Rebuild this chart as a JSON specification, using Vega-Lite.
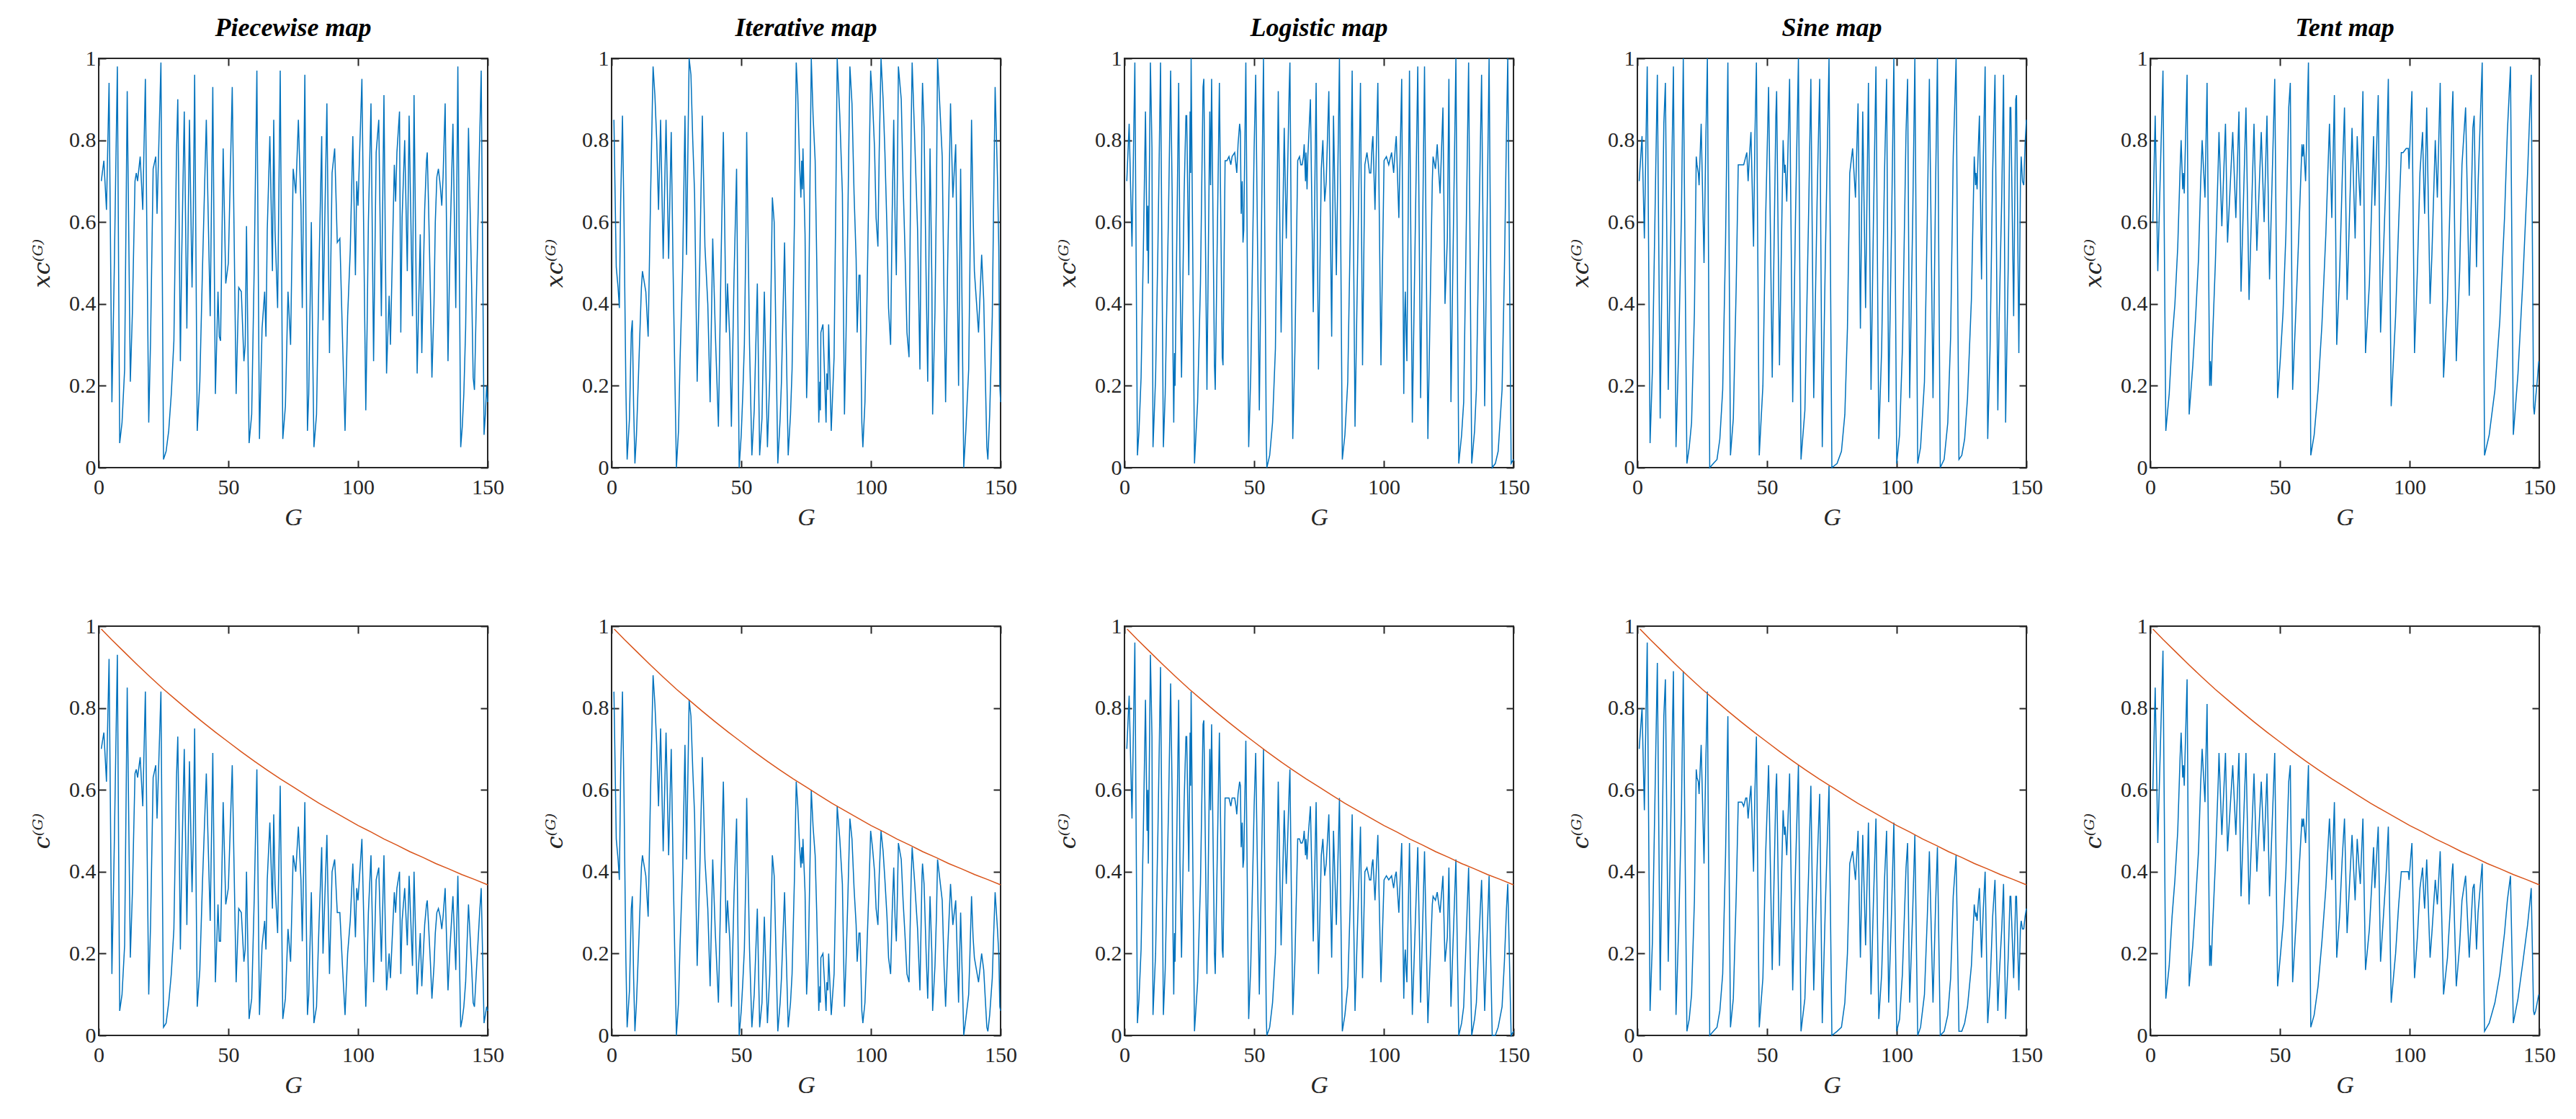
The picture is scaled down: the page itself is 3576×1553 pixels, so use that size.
{
"$schema": "https://vega.github.io/schema/vega-lite/v6.json",
"padding": {"left": 41, "top": 20, "right": 10, "bottom": 10},
"bounds": "flush",
"columns": 5,
"spacing": {"row": 220, "column": 172},
"config": {
 "font": "Liberation Serif",
 "view": {"stroke": "#262626", "strokeWidth": 2},
 "axis": {"grid": false, "domain": false, "labelFlush": false, "tickColor": "#262626", "tickSize": -10, "tickWidth": 2, "labelFont": "Liberation Serif", "labelFontSize": 30, "labelColor": "#262626", "titleFont": "Liberation Serif", "titleFontSize": 34, "titleFontStyle": "italic", "titleFontWeight": "normal", "titleColor": "#262626"},
 "axisX": {"labelPadding": 22, "titlePadding": 10},
 "axisY": {"labelPadding": 14, "titlePadding": 20, "titleFont": "DejaVu Serif", "titleFontSize": 32},
 "title": {"font": "Liberation Serif", "fontSize": 36, "fontStyle": "italic", "fontWeight": "bold", "color": "#000000", "offset": 8}
},
"datasets": {
 "e": [{"G":1,"v":0.993},{"G":5,"v":0.967},{"G":10,"v":0.936},{"G":15,"v":0.905},{"G":20,"v":0.875},{"G":25,"v":0.846},{"G":30,"v":0.819},{"G":35,"v":0.792},{"G":40,"v":0.766},{"G":45,"v":0.741},{"G":50,"v":0.717},{"G":55,"v":0.693},{"G":60,"v":0.67},{"G":65,"v":0.648},{"G":70,"v":0.627},{"G":75,"v":0.607},{"G":80,"v":0.587},{"G":85,"v":0.567},{"G":90,"v":0.549},{"G":95,"v":0.531},{"G":100,"v":0.513},{"G":105,"v":0.497},{"G":110,"v":0.48},{"G":115,"v":0.465},{"G":120,"v":0.449},{"G":125,"v":0.435},{"G":130,"v":0.42},{"G":135,"v":0.407},{"G":140,"v":0.393},{"G":145,"v":0.381},{"G":150,"v":0.368}],
 "d": [
{"m":"P","G":1,"x":0.7,"c":0.7},{"m":"P","G":2,"x":0.75,"c":0.74},{"m":"P","G":2.5,"x":0.69,"c":0.68},{"m":"P","G":3,"x":0.63,"c":0.62},{"m":"P","G":4,"x":0.94,"c":0.92},{"m":"P","G":5.1,"x":0.16,"c":0.15},{"m":"P","G":6,"x":0.48,"c":0.46},{"m":"P","G":7.2,"x":0.98,"c":0.93},{"m":"P","G":8.1,"x":0.06,"c":0.06},{"m":"P","G":9,"x":0.11,"c":0.1},{"m":"P","G":10,"x":0.24,"c":0.22},{"m":"P","G":11,"x":0.92,"c":0.85},{"m":"P","G":12.2,"x":0.21,"c":0.19},{"m":"P","G":13,"x":0.38,"c":0.35},{"m":"P","G":14,"x":0.7,"c":0.64},{"m":"P","G":14.5,"x":0.72,"c":0.65},{"m":"P","G":15,"x":0.7,"c":0.63},{"m":"P","G":16,"x":0.76,"c":0.68},{"m":"P","G":17,"x":0.63,"c":0.56},{"m":"P","G":18,"x":0.95,"c":0.84},{"m":"P","G":19.3,"x":0.11,"c":0.1},{"m":"P","G":20,"x":0.31,"c":0.27},{"m":"P","G":21,"x":0.73,"c":0.63},{"m":"P","G":22,"x":0.76,"c":0.66},{"m":"P","G":22.5,"x":0.62,"c":0.53},{"m":"P","G":23,"x":0.74,"c":0.63},{"m":"P","G":24,"x":0.99,"c":0.84},{"m":"P","G":25,"x":0.02,"c":0.02},{"m":"P","G":26,"x":0.04,"c":0.03},{"m":"P","G":27,"x":0.09,"c":0.08},{"m":"P","G":28,"x":0.18,"c":0.15},{"m":"P","G":29,"x":0.31,"c":0.26},{"m":"P","G":30,"x":0.77,"c":0.63},{"m":"P","G":30.5,"x":0.9,"c":0.73},{"m":"P","G":31,"x":0.61,"c":0.5},{"m":"P","G":31.5,"x":0.26,"c":0.21},{"m":"P","G":32,"x":0.51,"c":0.41},{"m":"P","G":33,"x":0.87,"c":0.7},{"m":"P","G":34,"x":0.34,"c":0.27},{"m":"P","G":35,"x":0.85,"c":0.67},{"m":"P","G":36,"x":0.44,"c":0.35},{"m":"P","G":36.5,"x":0.63,"c":0.49},{"m":"P","G":37,"x":0.96,"c":0.75},{"m":"P","G":38,"x":0.09,"c":0.07},{"m":"P","G":39,"x":0.21,"c":0.16},{"m":"P","G":40,"x":0.48,"c":0.37},{"m":"P","G":41.5,"x":0.85,"c":0.64},{"m":"P","G":43,"x":0.37,"c":0.28},{"m":"P","G":44,"x":0.93,"c":0.69},{"m":"P","G":45,"x":0.18,"c":0.13},{"m":"P","G":46,"x":0.43,"c":0.32},{"m":"P","G":46.5,"x":0.32,"c":0.23},{"m":"P","G":47,"x":0.31,"c":0.23},{"m":"P","G":48,"x":0.78,"c":0.57},{"m":"P","G":49,"x":0.45,"c":0.32},{"m":"P","G":50,"x":0.5,"c":0.36},{"m":"P","G":51.5,"x":0.93,"c":0.66},{"m":"P","G":53,"x":0.18,"c":0.13},{"m":"P","G":54,"x":0.44,"c":0.31},{"m":"P","G":55,"x":0.43,"c":0.3},{"m":"P","G":56,"x":0.26,"c":0.18},{"m":"P","G":56.5,"x":0.3,"c":0.21},{"m":"P","G":57,"x":0.59,"c":0.4},{"m":"P","G":58,"x":0.06,"c":0.04},{"m":"P","G":59,"x":0.13,"c":0.09},{"m":"P","G":60,"x":0.5,"c":0.34},{"m":"P","G":61,"x":0.97,"c":0.65},{"m":"P","G":62,"x":0.07,"c":0.05},{"m":"P","G":63,"x":0.34,"c":0.22},{"m":"P","G":64,"x":0.43,"c":0.28},{"m":"P","G":64.5,"x":0.32,"c":0.21},{"m":"P","G":65,"x":0.58,"c":0.38},{"m":"P","G":66,"x":0.81,"c":0.52},{"m":"P","G":67,"x":0.48,"c":0.31},{"m":"P","G":67.5,"x":0.85,"c":0.54},{"m":"P","G":68,"x":0.58,"c":0.37},{"m":"P","G":69,"x":0.39,"c":0.25},{"m":"P","G":70,"x":0.97,"c":0.61},{"m":"P","G":71,"x":0.07,"c":0.04},{"m":"P","G":72,"x":0.15,"c":0.09},{"m":"P","G":73,"x":0.43,"c":0.26},{"m":"P","G":74,"x":0.3,"c":0.18},{"m":"P","G":75,"x":0.73,"c":0.44},{"m":"P","G":76,"x":0.67,"c":0.4},{"m":"P","G":77,"x":0.85,"c":0.51},{"m":"P","G":78,"x":0.64,"c":0.38},{"m":"P","G":78.5,"x":0.39,"c":0.23},{"m":"P","G":79.5,"x":0.96,"c":0.57},{"m":"P","G":80.5,"x":0.09,"c":0.05},{"m":"P","G":81,"x":0.18,"c":0.1},{"m":"P","G":82,"x":0.6,"c":0.35},{"m":"P","G":82.5,"x":0.3,"c":0.17},{"m":"P","G":83,"x":0.05,"c":0.03},{"m":"P","G":84,"x":0.13,"c":0.07},{"m":"P","G":85,"x":0.5,"c":0.28},{"m":"P","G":86,"x":0.81,"c":0.46},{"m":"P","G":86.5,"x":0.36,"c":0.2},{"m":"P","G":88,"x":0.89,"c":0.49},{"m":"P","G":89,"x":0.28,"c":0.15},{"m":"P","G":90,"x":0.72,"c":0.4},{"m":"P","G":91,"x":0.78,"c":0.43},{"m":"P","G":92,"x":0.55,"c":0.3},{"m":"P","G":93,"x":0.56,"c":0.3},{"m":"P","G":94,"x":0.32,"c":0.17},{"m":"P","G":95,"x":0.09,"c":0.05},{"m":"P","G":96,"x":0.37,"c":0.2},{"m":"P","G":97,"x":0.53,"c":0.28},{"m":"P","G":98,"x":0.81,"c":0.42},{"m":"P","G":99,"x":0.47,"c":0.24},{"m":"P","G":99.5,"x":0.7,"c":0.36},{"m":"P","G":100,"x":0.64,"c":0.33},{"m":"P","G":101.5,"x":0.95,"c":0.48},{"m":"P","G":103,"x":0.14,"c":0.07},{"m":"P","G":103.5,"x":0.34,"c":0.17},{"m":"P","G":104,"x":0.6,"c":0.3},{"m":"P","G":105,"x":0.89,"c":0.44},{"m":"P","G":106,"x":0.26,"c":0.13},{"m":"P","G":107,"x":0.77,"c":0.38},{"m":"P","G":108,"x":0.85,"c":0.41},{"m":"P","G":109,"x":0.37,"c":0.18},{"m":"P","G":110,"x":0.91,"c":0.44},{"m":"P","G":111,"x":0.23,"c":0.11},{"m":"P","G":112,"x":0.42,"c":0.2},{"m":"P","G":112.5,"x":0.3,"c":0.14},{"m":"P","G":114,"x":0.74,"c":0.35},{"m":"P","G":114.5,"x":0.65,"c":0.3},{"m":"P","G":115,"x":0.77,"c":0.36},{"m":"P","G":116,"x":0.87,"c":0.4},{"m":"P","G":116.5,"x":0.33,"c":0.15},{"m":"P","G":117,"x":0.61,"c":0.28},{"m":"P","G":118,"x":0.8,"c":0.36},{"m":"P","G":119,"x":0.48,"c":0.22},{"m":"P","G":119.7,"x":0.86,"c":0.39},{"m":"P","G":121,"x":0.37,"c":0.17},{"m":"P","G":121.6,"x":0.91,"c":0.4},{"m":"P","G":122.8,"x":0.23,"c":0.1},{"m":"P","G":124,"x":0.57,"c":0.25},{"m":"P","G":124.6,"x":0.28,"c":0.12},{"m":"P","G":125.7,"x":0.63,"c":0.27},{"m":"P","G":126.4,"x":0.75,"c":0.32},{"m":"P","G":126.7,"x":0.77,"c":0.33},{"m":"P","G":127.2,"x":0.64,"c":0.27},{"m":"P","G":127.9,"x":0.43,"c":0.18},{"m":"P","G":128.5,"x":0.22,"c":0.09},{"m":"P","G":129.3,"x":0.4,"c":0.17},{"m":"P","G":129.8,"x":0.6,"c":0.25},{"m":"P","G":130.4,"x":0.71,"c":0.3},{"m":"P","G":131,"x":0.73,"c":0.31},{"m":"P","G":131.7,"x":0.69,"c":0.29},{"m":"P","G":132.3,"x":0.64,"c":0.26},{"m":"P","G":132.8,"x":0.71,"c":0.29},{"m":"P","G":133.6,"x":0.89,"c":0.36},{"m":"P","G":134.7,"x":0.26,"c":0.11},{"m":"P","G":135.5,"x":0.55,"c":0.22},{"m":"P","G":136.6,"x":0.84,"c":0.34},{"m":"P","G":137.7,"x":0.39,"c":0.16},{"m":"P","G":138.5,"x":0.98,"c":0.39},{"m":"P","G":139.6,"x":0.05,"c":0.02},{"m":"P","G":140.2,"x":0.1,"c":0.04},{"m":"P","G":140.8,"x":0.18,"c":0.07},{"m":"P","G":141.5,"x":0.34,"c":0.13},{"m":"P","G":142.6,"x":0.83,"c":0.32},{"m":"P","G":143.8,"x":0.45,"c":0.17},{"m":"P","G":144.4,"x":0.22,"c":0.08},{"m":"P","G":144.9,"x":0.19,"c":0.07},{"m":"P","G":145.5,"x":0.37,"c":0.14},{"m":"P","G":146.9,"x":0.8,"c":0.3},{"m":"P","G":147.5,"x":0.97,"c":0.36},{"m":"P","G":148.6,"x":0.08,"c":0.03},{"m":"P","G":149.1,"x":0.13,"c":0.05},{"m":"P","G":149.6,"x":0.2,"c":0.07},{"m":"P","G":150,"x":0.16,"c":0.06},
{"m":"I","G":0.9,"x":0.85,"c":0.84},{"m":"I","G":1.8,"x":0.49,"c":0.48},{"m":"I","G":2.5,"x":0.44,"c":0.43},{"m":"I","G":3,"x":0.39,"c":0.38},{"m":"I","G":3.5,"x":0.65,"c":0.64},{"m":"I","G":4.2,"x":0.86,"c":0.84},{"m":"I","G":4.8,"x":0.6,"c":0.58},{"m":"I","G":5.5,"x":0.2,"c":0.19},{"m":"I","G":6,"x":0.02,"c":0.02},{"m":"I","G":6.9,"x":0.12,"c":0.11},{"m":"I","G":7.6,"x":0.33,"c":0.31},{"m":"I","G":8,"x":0.36,"c":0.34},{"m":"I","G":8.5,"x":0.15,"c":0.14},{"m":"I","G":9,"x":0.01,"c":0.01},{"m":"I","G":9.6,"x":0.08,"c":0.08},{"m":"I","G":10.5,"x":0.25,"c":0.23},{"m":"I","G":11.5,"x":0.44,"c":0.41},{"m":"I","G":11.9,"x":0.48,"c":0.44},{"m":"I","G":13.2,"x":0.43,"c":0.39},{"m":"I","G":14.1,"x":0.32,"c":0.29},{"m":"I","G":15,"x":0.65,"c":0.59},{"m":"I","G":16,"x":0.98,"c":0.88},{"m":"I","G":16.7,"x":0.91,"c":0.81},{"m":"I","G":17.4,"x":0.8,"c":0.71},{"m":"I","G":18.1,"x":0.63,"c":0.56},{"m":"I","G":18.9,"x":0.85,"c":0.75},{"m":"I","G":19.9,"x":0.51,"c":0.45},{"m":"I","G":21,"x":0.85,"c":0.74},{"m":"I","G":22,"x":0.51,"c":0.44},{"m":"I","G":23,"x":0.82,"c":0.7},{"m":"I","G":23.7,"x":0.49,"c":0.42},{"m":"I","G":24.3,"x":0.26,"c":0.22},{"m":"I","G":25,"x":0.0,"c":0.0},{"m":"I","G":25.8,"x":0.09,"c":0.08},{"m":"I","G":26.4,"x":0.26,"c":0.22},{"m":"I","G":27.4,"x":0.49,"c":0.41},{"m":"I","G":28.3,"x":0.86,"c":0.71},{"m":"I","G":28.9,"x":0.52,"c":0.43},{"m":"I","G":29.9,"x":1.0,"c":0.82},{"m":"I","G":30.6,"x":0.96,"c":0.78},{"m":"I","G":31.3,"x":0.8,"c":0.65},{"m":"I","G":32,"x":0.67,"c":0.54},{"m":"I","G":33,"x":0.21,"c":0.17},{"m":"I","G":34,"x":0.5,"c":0.4},{"m":"I","G":35,"x":0.86,"c":0.68},{"m":"I","G":36,"x":0.54,"c":0.43},{"m":"I","G":37.1,"x":0.4,"c":0.31},{"m":"I","G":38,"x":0.16,"c":0.12},{"m":"I","G":39,"x":0.56,"c":0.43},{"m":"I","G":40,"x":0.33,"c":0.25},{"m":"I","G":41.2,"x":0.1,"c":0.08},{"m":"I","G":42.2,"x":0.5,"c":0.38},{"m":"I","G":43.1,"x":0.82,"c":0.62},{"m":"I","G":44.2,"x":0.33,"c":0.25},{"m":"I","G":44.7,"x":0.45,"c":0.33},{"m":"I","G":45.6,"x":0.31,"c":0.23},{"m":"I","G":46.2,"x":0.1,"c":0.07},{"m":"I","G":47.2,"x":0.46,"c":0.34},{"m":"I","G":48.2,"x":0.73,"c":0.53},{"m":"I","G":49.2,"x":0.0,"c":0.0},{"m":"I","G":50,"x":0.08,"c":0.06},{"m":"I","G":50.6,"x":0.18,"c":0.13},{"m":"I","G":51.2,"x":0.3,"c":0.21},{"m":"I","G":51.8,"x":0.57,"c":0.4},{"m":"I","G":52.1,"x":0.82,"c":0.58},{"m":"I","G":53.2,"x":0.3,"c":0.21},{"m":"I","G":54.1,"x":0.03,"c":0.02},{"m":"I","G":55,"x":0.14,"c":0.1},{"m":"I","G":56.2,"x":0.45,"c":0.31},{"m":"I","G":57.1,"x":0.03,"c":0.02},{"m":"I","G":58,"x":0.12,"c":0.08},{"m":"I","G":58.9,"x":0.43,"c":0.29},{"m":"I","G":60.1,"x":0.05,"c":0.03},{"m":"I","G":61,"x":0.22,"c":0.15},{"m":"I","G":62,"x":0.66,"c":0.44},{"m":"I","G":62.7,"x":0.6,"c":0.39},{"m":"I","G":64.1,"x":0.01,"c":0.01},{"m":"I","G":65,"x":0.12,"c":0.08},{"m":"I","G":65.5,"x":0.21,"c":0.14},{"m":"I","G":66.7,"x":0.55,"c":0.35},{"m":"I","G":68.1,"x":0.03,"c":0.02},{"m":"I","G":69,"x":0.13,"c":0.08},{"m":"I","G":69.6,"x":0.24,"c":0.15},{"m":"I","G":70.5,"x":0.6,"c":0.38},{"m":"I","G":71.2,"x":0.99,"c":0.62},{"m":"I","G":71.8,"x":0.91,"c":0.56},{"m":"I","G":72.5,"x":0.74,"c":0.46},{"m":"I","G":73,"x":0.66,"c":0.41},{"m":"I","G":73.3,"x":0.75,"c":0.46},{"m":"I","G":73.6,"x":0.68,"c":0.42},{"m":"I","G":73.8,"x":0.78,"c":0.48},{"m":"I","G":74.6,"x":0.57,"c":0.35},{"m":"I","G":75.2,"x":0.17,"c":0.1},{"m":"I","G":75.9,"x":0.33,"c":0.2},{"m":"I","G":77,"x":1.0,"c":0.6},{"m":"I","G":77.7,"x":0.86,"c":0.51},{"m":"I","G":78.5,"x":0.75,"c":0.44},{"m":"I","G":79.1,"x":0.51,"c":0.3},{"m":"I","G":79.9,"x":0.11,"c":0.06},{"m":"I","G":80.3,"x":0.21,"c":0.12},{"m":"I","G":80.5,"x":0.14,"c":0.08},{"m":"I","G":80.7,"x":0.33,"c":0.19},{"m":"I","G":81.5,"x":0.35,"c":0.2},{"m":"I","G":82.7,"x":0.11,"c":0.06},{"m":"I","G":83,"x":0.23,"c":0.13},{"m":"I","G":83.4,"x":0.19,"c":0.11},{"m":"I","G":83.7,"x":0.35,"c":0.2},{"m":"I","G":84.7,"x":0.09,"c":0.05},{"m":"I","G":85.8,"x":0.27,"c":0.15},{"m":"I","G":86.5,"x":0.67,"c":0.38},{"m":"I","G":87,"x":1.0,"c":0.56},{"m":"I","G":88,"x":0.86,"c":0.48},{"m":"I","G":89,"x":0.67,"c":0.37},{"m":"I","G":89.8,"x":0.13,"c":0.07},{"m":"I","G":90.4,"x":0.32,"c":0.18},{"m":"I","G":91,"x":0.56,"c":0.31},{"m":"I","G":91.9,"x":0.98,"c":0.53},{"m":"I","G":92.7,"x":0.89,"c":0.48},{"m":"I","G":93.5,"x":0.67,"c":0.36},{"m":"I","G":94.3,"x":0.51,"c":0.27},{"m":"I","G":94.7,"x":0.33,"c":0.18},{"m":"I","G":95.4,"x":0.47,"c":0.25},{"m":"I","G":95.8,"x":0.47,"c":0.25},{"m":"I","G":96.5,"x":0.11,"c":0.06},{"m":"I","G":96.9,"x":0.05,"c":0.03},{"m":"I","G":97.7,"x":0.16,"c":0.08},{"m":"I","G":98.4,"x":0.38,"c":0.2},{"m":"I","G":99.3,"x":0.72,"c":0.37},{"m":"I","G":99.9,"x":0.97,"c":0.5},{"m":"I","G":100.6,"x":0.9,"c":0.46},{"m":"I","G":101.4,"x":0.78,"c":0.4},{"m":"I","G":102,"x":0.61,"c":0.31},{"m":"I","G":102.7,"x":0.54,"c":0.27},{"m":"I","G":103.2,"x":0.77,"c":0.39},{"m":"I","G":103.9,"x":1.0,"c":0.5},{"m":"I","G":104.7,"x":0.9,"c":0.45},{"m":"I","G":105.4,"x":0.77,"c":0.38},{"m":"I","G":106.2,"x":0.58,"c":0.29},{"m":"I","G":106.8,"x":0.39,"c":0.19},{"m":"I","G":107.6,"x":0.3,"c":0.15},{"m":"I","G":108.2,"x":0.62,"c":0.3},{"m":"I","G":108.8,"x":0.85,"c":0.41},{"m":"I","G":109.3,"x":0.61,"c":0.29},{"m":"I","G":109.8,"x":0.47,"c":0.23},{"m":"I","G":110.2,"x":0.71,"c":0.34},{"m":"I","G":110.6,"x":0.98,"c":0.47},{"m":"I","G":111.7,"x":0.9,"c":0.43},{"m":"I","G":112.4,"x":0.7,"c":0.33},{"m":"I","G":113.1,"x":0.54,"c":0.25},{"m":"I","G":113.9,"x":0.33,"c":0.15},{"m":"I","G":114.7,"x":0.27,"c":0.13},{"m":"I","G":115.5,"x":0.82,"c":0.38},{"m":"I","G":115.9,"x":0.99,"c":0.46},{"m":"I","G":116.8,"x":0.82,"c":0.38},{"m":"I","G":118,"x":0.58,"c":0.26},{"m":"I","G":118.9,"x":0.24,"c":0.11},{"m":"I","G":119.7,"x":0.87,"c":0.39},{"m":"I","G":119.9,"x":0.94,"c":0.42},{"m":"I","G":120.5,"x":0.83,"c":0.37},{"m":"I","G":121.3,"x":0.46,"c":0.2},{"m":"I","G":121.9,"x":0.21,"c":0.09},{"m":"I","G":122.8,"x":0.78,"c":0.34},{"m":"I","G":123.5,"x":0.46,"c":0.2},{"m":"I","G":123.8,"x":0.13,"c":0.06},{"m":"I","G":124.7,"x":0.38,"c":0.17},{"m":"I","G":125.3,"x":0.69,"c":0.3},{"m":"I","G":125.7,"x":1.0,"c":0.43},{"m":"I","G":126.6,"x":0.88,"c":0.38},{"m":"I","G":127.5,"x":0.76,"c":0.33},{"m":"I","G":128.2,"x":0.41,"c":0.17},{"m":"I","G":128.8,"x":0.16,"c":0.07},{"m":"I","G":129.6,"x":0.5,"c":0.21},{"m":"I","G":130.7,"x":0.89,"c":0.37},{"m":"I","G":131.6,"x":0.66,"c":0.27},{"m":"I","G":132.7,"x":0.79,"c":0.33},{"m":"I","G":133.8,"x":0.2,"c":0.08},{"m":"I","G":134.6,"x":0.73,"c":0.3},{"m":"I","G":135.8,"x":0.0,"c":0.0},{"m":"I","G":136.6,"x":0.09,"c":0.04},{"m":"I","G":137.7,"x":0.24,"c":0.1},{"m":"I","G":138.1,"x":0.45,"c":0.18},{"m":"I","G":138.8,"x":0.85,"c":0.34},{"m":"I","G":139.4,"x":0.62,"c":0.24},{"m":"I","G":139.9,"x":0.48,"c":0.19},{"m":"I","G":141.5,"x":0.33,"c":0.13},{"m":"I","G":142.7,"x":0.52,"c":0.2},{"m":"I","G":143.5,"x":0.41,"c":0.16},{"m":"I","G":144.7,"x":0.05,"c":0.02},{"m":"I","G":145.1,"x":0.02,"c":0.01},{"m":"I","G":145.8,"x":0.13,"c":0.05},{"m":"I","G":146.8,"x":0.37,"c":0.14},{"m":"I","G":147.3,"x":0.63,"c":0.24},{"m":"I","G":147.9,"x":0.93,"c":0.35},{"m":"I","G":148.8,"x":0.71,"c":0.26},{"m":"I","G":149.3,"x":0.54,"c":0.2},{"m":"I","G":149.7,"x":0.2,"c":0.07},{"m":"I","G":150,"x":0.16,"c":0.06},
{"m":"L","G":0.9,"x":0.7,"c":0.7},{"m":"L","G":1.8,"x":0.84,"c":0.83},{"m":"L","G":2.9,"x":0.54,"c":0.53},{"m":"L","G":4,"x":0.99,"c":0.96},{"m":"L","G":5,"x":0.03,"c":0.03},{"m":"L","G":5.6,"x":0.09,"c":0.09},{"m":"L","G":6.4,"x":0.22,"c":0.21},{"m":"L","G":7.3,"x":0.54,"c":0.51},{"m":"L","G":8.1,"x":0.87,"c":0.82},{"m":"L","G":8.7,"x":0.53,"c":0.5},{"m":"L","G":9,"x":0.64,"c":0.6},{"m":"L","G":9.2,"x":0.45,"c":0.42},{"m":"L","G":10,"x":0.99,"c":0.93},{"m":"L","G":10.6,"x":0.78,"c":0.73},{"m":"L","G":11,"x":0.05,"c":0.05},{"m":"L","G":12,"x":0.22,"c":0.2},{"m":"L","G":12.9,"x":0.54,"c":0.5},{"m":"L","G":13.9,"x":0.99,"c":0.9},{"m":"L","G":15,"x":0.05,"c":0.05},{"m":"L","G":15.7,"x":0.18,"c":0.16},{"m":"L","G":17,"x":0.63,"c":0.56},{"m":"L","G":17.8,"x":0.97,"c":0.86},{"m":"L","G":18.4,"x":0.66,"c":0.58},{"m":"L","G":18.7,"x":0.28,"c":0.25},{"m":"L","G":19,"x":0.11,"c":0.1},{"m":"L","G":19.3,"x":0.28,"c":0.25},{"m":"L","G":19.5,"x":0.2,"c":0.18},{"m":"L","G":20.9,"x":0.94,"c":0.82},{"m":"L","G":21.4,"x":0.49,"c":0.42},{"m":"L","G":22,"x":0.22,"c":0.19},{"m":"L","G":23,"x":0.67,"c":0.57},{"m":"L","G":23.7,"x":0.86,"c":0.73},{"m":"L","G":24,"x":0.86,"c":0.73},{"m":"L","G":24.8,"x":0.47,"c":0.4},{"m":"L","G":25.3,"x":0.87,"c":0.74},{"m":"L","G":25.5,"x":0.72,"c":0.61},{"m":"L","G":25.7,"x":1.0,"c":0.84},{"m":"L","G":27,"x":0.01,"c":0.01},{"m":"L","G":28.2,"x":0.16,"c":0.13},{"m":"L","G":29.3,"x":0.45,"c":0.37},{"m":"L","G":30.3,"x":0.93,"c":0.76},{"m":"L","G":30.6,"x":0.95,"c":0.77},{"m":"L","G":31.8,"x":0.19,"c":0.15},{"m":"L","G":32.9,"x":0.87,"c":0.7},{"m":"L","G":33.2,"x":0.69,"c":0.55},{"m":"L","G":33.6,"x":0.95,"c":0.76},{"m":"L","G":34.7,"x":0.25,"c":0.2},{"m":"L","G":35,"x":0.19,"c":0.15},{"m":"L","G":36.6,"x":0.94,"c":0.74},{"m":"L","G":37.7,"x":0.27,"c":0.21},{"m":"L","G":38,"x":0.25,"c":0.19},{"m":"L","G":38.8,"x":0.75,"c":0.58},{"m":"L","G":39.5,"x":0.75,"c":0.58},{"m":"L","G":40.3,"x":0.76,"c":0.58},{"m":"L","G":41,"x":0.74,"c":0.56},{"m":"L","G":41.5,"x":0.76,"c":0.58},{"m":"L","G":42.5,"x":0.77,"c":0.58},{"m":"L","G":43,"x":0.74,"c":0.56},{"m":"L","G":43.3,"x":0.72,"c":0.54},{"m":"L","G":43.8,"x":0.79,"c":0.59},{"m":"L","G":44.4,"x":0.84,"c":0.62},{"m":"L","G":44.7,"x":0.82,"c":0.61},{"m":"L","G":45,"x":0.62,"c":0.46},{"m":"L","G":45.4,"x":0.7,"c":0.52},{"m":"L","G":45.7,"x":0.55,"c":0.41},{"m":"L","G":46,"x":0.58,"c":0.43},{"m":"L","G":46.8,"x":0.99,"c":0.72},{"m":"L","G":47.9,"x":0.05,"c":0.04},{"m":"L","G":48.7,"x":0.23,"c":0.17},{"m":"L","G":50,"x":0.78,"c":0.56},{"m":"L","G":50.6,"x":0.96,"c":0.69},{"m":"L","G":52,"x":0.14,"c":0.1},{"m":"L","G":53.6,"x":1.0,"c":0.7},{"m":"L","G":54.7,"x":0.06,"c":0.04},{"m":"L","G":54.9,"x":0.0,"c":0.0},{"m":"L","G":56,"x":0.03,"c":0.02},{"m":"L","G":57.1,"x":0.11,"c":0.08},{"m":"L","G":58.2,"x":0.29,"c":0.2},{"m":"L","G":59.3,"x":0.92,"c":0.62},{"m":"L","G":60.4,"x":0.33,"c":0.22},{"m":"L","G":61.6,"x":0.83,"c":0.55},{"m":"L","G":62.4,"x":0.56,"c":0.37},{"m":"L","G":63.5,"x":0.92,"c":0.6},{"m":"L","G":63.8,"x":0.99,"c":0.65},{"m":"L","G":64.9,"x":0.07,"c":0.05},{"m":"L","G":65.7,"x":0.28,"c":0.18},{"m":"L","G":66.8,"x":0.75,"c":0.48},{"m":"L","G":67.5,"x":0.76,"c":0.48},{"m":"L","G":68,"x":0.74,"c":0.47},{"m":"L","G":68.5,"x":0.74,"c":0.47},{"m":"L","G":69,"x":0.76,"c":0.48},{"m":"L","G":69.3,"x":0.79,"c":0.5},{"m":"L","G":69.8,"x":0.7,"c":0.44},{"m":"L","G":70,"x":0.77,"c":0.48},{"m":"L","G":70.4,"x":0.68,"c":0.43},{"m":"L","G":70.7,"x":0.76,"c":0.47},{"m":"L","G":71,"x":0.8,"c":0.5},{"m":"L","G":71.7,"x":0.9,"c":0.56},{"m":"L","G":72.8,"x":0.38,"c":0.23},{"m":"L","G":73.9,"x":0.94,"c":0.57},{"m":"L","G":74.8,"x":0.24,"c":0.15},{"m":"L","G":75.9,"x":0.73,"c":0.44},{"m":"L","G":76.5,"x":0.8,"c":0.48},{"m":"L","G":77.2,"x":0.65,"c":0.39},{"m":"L","G":77.8,"x":0.7,"c":0.42},{"m":"L","G":78.8,"x":0.92,"c":0.54},{"m":"L","G":79.9,"x":0.32,"c":0.19},{"m":"L","G":80.6,"x":0.86,"c":0.5},{"m":"L","G":81.7,"x":0.47,"c":0.27},{"m":"L","G":82.9,"x":1.0,"c":0.58},{"m":"L","G":84,"x":0.02,"c":0.01},{"m":"L","G":85,"x":0.08,"c":0.05},{"m":"L","G":86.1,"x":0.21,"c":0.12},{"m":"L","G":87,"x":0.55,"c":0.31},{"m":"L","G":87.8,"x":0.97,"c":0.54},{"m":"L","G":88.9,"x":0.1,"c":0.06},{"m":"L","G":91,"x":0.94,"c":0.51},{"m":"L","G":91.8,"x":0.25,"c":0.14},{"m":"L","G":92.7,"x":0.74,"c":0.4},{"m":"L","G":93.5,"x":0.77,"c":0.41},{"m":"L","G":94.5,"x":0.72,"c":0.38},{"m":"L","G":95,"x":0.72,"c":0.38},{"m":"L","G":95.5,"x":0.79,"c":0.42},{"m":"L","G":95.8,"x":0.81,"c":0.43},{"m":"L","G":96.6,"x":0.63,"c":0.33},{"m":"L","G":97.7,"x":0.94,"c":0.49},{"m":"L","G":98.9,"x":0.25,"c":0.13},{"m":"L","G":100.1,"x":0.75,"c":0.38},{"m":"L","G":101,"x":0.76,"c":0.39},{"m":"L","G":101.9,"x":0.74,"c":0.38},{"m":"L","G":103,"x":0.77,"c":0.39},{"m":"L","G":103.8,"x":0.72,"c":0.36},{"m":"L","G":104.4,"x":0.78,"c":0.39},{"m":"L","G":104.8,"x":0.81,"c":0.4},{"m":"L","G":105.8,"x":0.61,"c":0.3},{"m":"L","G":106.9,"x":0.95,"c":0.47},{"m":"L","G":107.7,"x":0.18,"c":0.09},{"m":"L","G":108,"x":0.36,"c":0.18},{"m":"L","G":108.3,"x":0.43,"c":0.21},{"m":"L","G":108.6,"x":0.33,"c":0.16},{"m":"L","G":108.9,"x":0.26,"c":0.13},{"m":"L","G":109.9,"x":0.97,"c":0.47},{"m":"L","G":111,"x":0.11,"c":0.05},{"m":"L","G":113.1,"x":0.98,"c":0.46},{"m":"L","G":114.2,"x":0.17,"c":0.08},{"m":"L","G":115.7,"x":0.98,"c":0.45},{"m":"L","G":117,"x":0.07,"c":0.03},{"m":"L","G":118.7,"x":0.7,"c":0.32},{"m":"L","G":119,"x":0.76,"c":0.34},{"m":"L","G":119.9,"x":0.73,"c":0.33},{"m":"L","G":120.6,"x":0.79,"c":0.35},{"m":"L","G":121.2,"x":0.72,"c":0.32},{"m":"L","G":121.7,"x":0.67,"c":0.3},{"m":"L","G":122.8,"x":0.88,"c":0.39},{"m":"L","G":123.6,"x":0.4,"c":0.18},{"m":"L","G":124.5,"x":0.56,"c":0.24},{"m":"L","G":125.1,"x":0.95,"c":0.41},{"m":"L","G":125.9,"x":0.16,"c":0.07},{"m":"L","G":126.4,"x":0.39,"c":0.17},{"m":"L","G":127.8,"x":1.0,"c":0.43},{"m":"L","G":128.9,"x":0.01,"c":0.0},{"m":"L","G":130,"x":0.08,"c":0.03},{"m":"L","G":130.8,"x":0.16,"c":0.07},{"m":"L","G":131.6,"x":0.5,"c":0.21},{"m":"L","G":132.7,"x":0.99,"c":0.41},{"m":"L","G":133.9,"x":0.01,"c":0.0},{"m":"L","G":135,"x":0.09,"c":0.04},{"m":"L","G":135.7,"x":0.19,"c":0.08},{"m":"L","G":136.6,"x":0.55,"c":0.22},{"m":"L","G":137.7,"x":0.96,"c":0.38},{"m":"L","G":138.9,"x":0.15,"c":0.06},{"m":"L","G":140.6,"x":1.0,"c":0.39},{"m":"L","G":141.8,"x":0.0,"c":0.0},{"m":"L","G":143,"x":0.01,"c":0.0},{"m":"L","G":144.1,"x":0.04,"c":0.02},{"m":"L","G":145.6,"x":0.19,"c":0.07},{"m":"L","G":146.5,"x":0.48,"c":0.18},{"m":"L","G":147.3,"x":0.82,"c":0.31},{"m":"L","G":147.8,"x":1.0,"c":0.37},{"m":"L","G":149.1,"x":0.01,"c":0.0},{"m":"L","G":150,"x":0.02,"c":0.01},
{"m":"S","G":0.7,"x":0.7,"c":0.7},{"m":"S","G":1.8,"x":0.81,"c":0.8},{"m":"S","G":2.7,"x":0.56,"c":0.55},{"m":"S","G":3.8,"x":0.98,"c":0.96},{"m":"S","G":4.9,"x":0.06,"c":0.06},{"m":"S","G":5.8,"x":0.24,"c":0.23},{"m":"S","G":7.2,"x":0.77,"c":0.73},{"m":"S","G":7.7,"x":0.96,"c":0.91},{"m":"S","G":8.8,"x":0.12,"c":0.11},{"m":"S","G":10.2,"x":0.84,"c":0.78},{"m":"S","G":10.8,"x":0.94,"c":0.87},{"m":"S","G":11.9,"x":0.19,"c":0.18},{"m":"S","G":13.2,"x":0.7,"c":0.64},{"m":"S","G":13.9,"x":0.98,"c":0.89},{"m":"S","G":14.9,"x":0.05,"c":0.05},{"m":"S","G":16,"x":0.31,"c":0.28},{"m":"S","G":17,"x":0.62,"c":0.55},{"m":"S","G":17.7,"x":1.0,"c":0.89},{"m":"S","G":19.1,"x":0.01,"c":0.01},{"m":"S","G":20,"x":0.05,"c":0.04},{"m":"S","G":20.9,"x":0.11,"c":0.1},{"m":"S","G":22,"x":0.38,"c":0.33},{"m":"S","G":22.7,"x":0.76,"c":0.65},{"m":"S","G":23,"x":0.74,"c":0.63},{"m":"S","G":23.5,"x":0.72,"c":0.62},{"m":"S","G":23.8,"x":0.69,"c":0.59},{"m":"S","G":24.6,"x":0.84,"c":0.71},{"m":"S","G":25.7,"x":0.5,"c":0.42},{"m":"S","G":26.4,"x":0.8,"c":0.67},{"m":"S","G":27,"x":1.0,"c":0.84},{"m":"S","G":27.9,"x":0.0,"c":0.0},{"m":"S","G":29.3,"x":0.01,"c":0.01},{"m":"S","G":30.7,"x":0.02,"c":0.02},{"m":"S","G":31.8,"x":0.07,"c":0.06},{"m":"S","G":32.9,"x":0.19,"c":0.15},{"m":"S","G":34,"x":0.55,"c":0.44},{"m":"S","G":34.9,"x":0.99,"c":0.78},{"m":"S","G":35.9,"x":0.03,"c":0.02},{"m":"S","G":37,"x":0.12,"c":0.09},{"m":"S","G":38.1,"x":0.44,"c":0.34},{"m":"S","G":38.9,"x":0.74,"c":0.57},{"m":"S","G":39.5,"x":0.74,"c":0.57},{"m":"S","G":40.3,"x":0.74,"c":0.57},{"m":"S","G":41,"x":0.74,"c":0.56},{"m":"S","G":41.8,"x":0.76,"c":0.58},{"m":"S","G":42.2,"x":0.77,"c":0.58},{"m":"S","G":42.7,"x":0.7,"c":0.53},{"m":"S","G":43.2,"x":0.76,"c":0.57},{"m":"S","G":43.8,"x":0.82,"c":0.61},{"m":"S","G":44.8,"x":0.54,"c":0.4},{"m":"S","G":45.3,"x":0.8,"c":0.59},{"m":"S","G":45.9,"x":0.99,"c":0.73},{"m":"S","G":47,"x":0.03,"c":0.02},{"m":"S","G":48.4,"x":0.2,"c":0.14},{"m":"S","G":49.5,"x":0.62,"c":0.45},{"m":"S","G":50.6,"x":0.93,"c":0.66},{"m":"S","G":52,"x":0.22,"c":0.16},{"m":"S","G":53.4,"x":0.86,"c":0.6},{"m":"S","G":53.7,"x":0.92,"c":0.64},{"m":"S","G":54.8,"x":0.25,"c":0.17},{"m":"S","G":56.2,"x":0.8,"c":0.55},{"m":"S","G":56.7,"x":0.72,"c":0.49},{"m":"S","G":57,"x":0.74,"c":0.51},{"m":"S","G":57.6,"x":0.65,"c":0.44},{"m":"S","G":58.7,"x":0.95,"c":0.64},{"m":"S","G":59.9,"x":0.16,"c":0.11},{"m":"S","G":61,"x":0.62,"c":0.41},{"m":"S","G":62.1,"x":1.0,"c":0.66},{"m":"S","G":63.1,"x":0.02,"c":0.01},{"m":"S","G":64.6,"x":0.14,"c":0.09},{"m":"S","G":66,"x":0.61,"c":0.39},{"m":"S","G":66.9,"x":0.95,"c":0.61},{"m":"S","G":68,"x":0.17,"c":0.11},{"m":"S","G":69.3,"x":0.65,"c":0.41},{"m":"S","G":70.3,"x":0.95,"c":0.59},{"m":"S","G":71.3,"x":0.05,"c":0.03},{"m":"S","G":72.5,"x":0.52,"c":0.32},{"m":"S","G":73.9,"x":1.0,"c":0.61},{"m":"S","G":75,"x":0.0,"c":0.0},{"m":"S","G":77,"x":0.01,"c":0.01},{"m":"S","G":78.7,"x":0.04,"c":0.02},{"m":"S","G":80,"x":0.13,"c":0.08},{"m":"S","G":81,"x":0.34,"c":0.2},{"m":"S","G":81.9,"x":0.72,"c":0.42},{"m":"S","G":83,"x":0.78,"c":0.45},{"m":"S","G":84.1,"x":0.66,"c":0.38},{"m":"S","G":85.1,"x":0.89,"c":0.5},{"m":"S","G":86,"x":0.34,"c":0.19},{"m":"S","G":86.9,"x":0.87,"c":0.49},{"m":"S","G":88,"x":0.39,"c":0.22},{"m":"S","G":89.1,"x":0.94,"c":0.52},{"m":"S","G":90.1,"x":0.19,"c":0.1},{"m":"S","G":91,"x":0.59,"c":0.32},{"m":"S","G":92,"x":0.98,"c":0.53},{"m":"S","G":93.1,"x":0.07,"c":0.04},{"m":"S","G":94.2,"x":0.29,"c":0.15},{"m":"S","G":95.3,"x":0.72,"c":0.38},{"m":"S","G":96.1,"x":0.95,"c":0.5},{"m":"S","G":96.9,"x":0.16,"c":0.08},{"m":"S","G":98,"x":0.58,"c":0.3},{"m":"S","G":98.9,"x":1.0,"c":0.52},{"m":"S","G":100,"x":0.01,"c":0.01},{"m":"S","G":101.1,"x":0.08,"c":0.04},{"m":"S","G":102.2,"x":0.29,"c":0.15},{"m":"S","G":103.6,"x":0.82,"c":0.41},{"m":"S","G":104.2,"x":0.95,"c":0.47},{"m":"S","G":105,"x":0.17,"c":0.08},{"m":"S","G":106.2,"x":0.62,"c":0.31},{"m":"S","G":107,"x":1.0,"c":0.49},{"m":"S","G":108.1,"x":0.01,"c":0.0},{"m":"S","G":109.2,"x":0.05,"c":0.02},{"m":"S","G":110.7,"x":0.21,"c":0.1},{"m":"S","G":111.8,"x":0.61,"c":0.29},{"m":"S","G":112.6,"x":0.95,"c":0.45},{"m":"S","G":114,"x":0.17,"c":0.08},{"m":"S","G":115,"x":0.69,"c":0.32},{"m":"S","G":115.7,"x":1.0,"c":0.46},{"m":"S","G":116.8,"x":0.0,"c":0.0},{"m":"S","G":118.3,"x":0.02,"c":0.01},{"m":"S","G":119.7,"x":0.11,"c":0.05},{"m":"S","G":120.8,"x":0.32,"c":0.14},{"m":"S","G":121.8,"x":0.76,"c":0.34},{"m":"S","G":122.9,"x":1.0,"c":0.44},{"m":"S","G":124,"x":0.02,"c":0.01},{"m":"S","G":125.1,"x":0.03,"c":0.01},{"m":"S","G":126.2,"x":0.07,"c":0.03},{"m":"S","G":127.3,"x":0.17,"c":0.07},{"m":"S","G":128.8,"x":0.41,"c":0.17},{"m":"S","G":129.9,"x":0.76,"c":0.32},{"m":"S","G":130.4,"x":0.69,"c":0.29},{"m":"S","G":130.6,"x":0.72,"c":0.3},{"m":"S","G":131,"x":0.68,"c":0.28},{"m":"S","G":131.5,"x":0.79,"c":0.33},{"m":"S","G":131.9,"x":0.86,"c":0.36},{"m":"S","G":132.7,"x":0.46,"c":0.19},{"m":"S","G":133.4,"x":0.76,"c":0.31},{"m":"S","G":134.1,"x":0.98,"c":0.4},{"m":"S","G":135.1,"x":0.07,"c":0.03},{"m":"S","G":136,"x":0.29,"c":0.12},{"m":"S","G":137,"x":0.72,"c":0.29},{"m":"S","G":137.9,"x":0.96,"c":0.38},{"m":"S","G":139,"x":0.14,"c":0.06},{"m":"S","G":139.5,"x":0.36,"c":0.14},{"m":"S","G":140.5,"x":0.66,"c":0.26},{"m":"S","G":141.2,"x":0.96,"c":0.37},{"m":"S","G":142,"x":0.11,"c":0.04},{"m":"S","G":143,"x":0.49,"c":0.19},{"m":"S","G":143.7,"x":0.88,"c":0.34},{"m":"S","G":144,"x":0.88,"c":0.34},{"m":"S","G":145.1,"x":0.37,"c":0.14},{"m":"S","G":145.9,"x":0.9,"c":0.34},{"m":"S","G":146.2,"x":0.91,"c":0.34},{"m":"S","G":147.1,"x":0.28,"c":0.11},{"m":"S","G":147.7,"x":0.69,"c":0.26},{"m":"S","G":148,"x":0.76,"c":0.28},{"m":"S","G":148.5,"x":0.7,"c":0.26},{"m":"S","G":149,"x":0.69,"c":0.26},{"m":"S","G":149.5,"x":0.79,"c":0.29},{"m":"S","G":150,"x":0.85,"c":0.31},
{"m":"T","G":1,"x":0.6,"c":0.6},{"m":"T","G":1.9,"x":0.86,"c":0.85},{"m":"T","G":2.9,"x":0.48,"c":0.47},{"m":"T","G":4.9,"x":0.97,"c":0.94},{"m":"T","G":6,"x":0.09,"c":0.09},{"m":"T","G":7.3,"x":0.18,"c":0.17},{"m":"T","G":8.4,"x":0.31,"c":0.29},{"m":"T","G":9.5,"x":0.4,"c":0.38},{"m":"T","G":10.6,"x":0.54,"c":0.5},{"m":"T","G":11.5,"x":0.73,"c":0.68},{"m":"T","G":11.9,"x":0.8,"c":0.74},{"m":"T","G":12.5,"x":0.68,"c":0.63},{"m":"T","G":12.8,"x":0.72,"c":0.66},{"m":"T","G":13.1,"x":0.67,"c":0.61},{"m":"T","G":14.2,"x":0.96,"c":0.87},{"m":"T","G":15,"x":0.13,"c":0.12},{"m":"T","G":16.4,"x":0.25,"c":0.22},{"m":"T","G":17.5,"x":0.37,"c":0.33},{"m":"T","G":18.6,"x":0.51,"c":0.45},{"m":"T","G":19.4,"x":0.69,"c":0.61},{"m":"T","G":20,"x":0.8,"c":0.7},{"m":"T","G":21.1,"x":0.66,"c":0.57},{"m":"T","G":21.9,"x":0.94,"c":0.81},{"m":"T","G":22.9,"x":0.2,"c":0.17},{"m":"T","G":23.2,"x":0.26,"c":0.22},{"m":"T","G":23.5,"x":0.2,"c":0.17},{"m":"T","G":24,"x":0.31,"c":0.26},{"m":"T","G":25.1,"x":0.5,"c":0.42},{"m":"T","G":26.2,"x":0.74,"c":0.62},{"m":"T","G":26.5,"x":0.82,"c":0.69},{"m":"T","G":27.6,"x":0.59,"c":0.49},{"m":"T","G":29,"x":0.84,"c":0.69},{"m":"T","G":29.8,"x":0.55,"c":0.45},{"m":"T","G":31.8,"x":0.82,"c":0.66},{"m":"T","G":33,"x":0.61,"c":0.49},{"m":"T","G":34.2,"x":0.87,"c":0.69},{"m":"T","G":35,"x":0.43,"c":0.34},{"m":"T","G":36.9,"x":0.88,"c":0.69},{"m":"T","G":38.1,"x":0.41,"c":0.32},{"m":"T","G":40,"x":0.84,"c":0.64},{"m":"T","G":41.1,"x":0.53,"c":0.4},{"m":"T","G":42.8,"x":0.82,"c":0.62},{"m":"T","G":43.9,"x":0.6,"c":0.45},{"m":"T","G":45,"x":0.86,"c":0.64},{"m":"T","G":46,"x":0.46,"c":0.34},{"m":"T","G":48,"x":0.95,"c":0.69},{"m":"T","G":49.1,"x":0.17,"c":0.12},{"m":"T","G":50.1,"x":0.26,"c":0.19},{"m":"T","G":51.2,"x":0.38,"c":0.27},{"m":"T","G":52.3,"x":0.57,"c":0.4},{"m":"T","G":53.4,"x":0.88,"c":0.62},{"m":"T","G":54,"x":0.94,"c":0.66},{"m":"T","G":54.9,"x":0.19,"c":0.13},{"m":"T","G":56,"x":0.36,"c":0.25},{"m":"T","G":57.1,"x":0.54,"c":0.37},{"m":"T","G":58.5,"x":0.79,"c":0.53},{"m":"T","G":58.8,"x":0.76,"c":0.51},{"m":"T","G":59.1,"x":0.79,"c":0.53},{"m":"T","G":59.9,"x":0.7,"c":0.47},{"m":"T","G":61,"x":0.99,"c":0.66},{"m":"T","G":61.9,"x":0.03,"c":0.02},{"m":"T","G":63.2,"x":0.08,"c":0.05},{"m":"T","G":64.7,"x":0.19,"c":0.12},{"m":"T","G":66.2,"x":0.35,"c":0.23},{"m":"T","G":67.7,"x":0.57,"c":0.36},{"m":"T","G":69.1,"x":0.84,"c":0.53},{"m":"T","G":70,"x":0.61,"c":0.38},{"m":"T","G":71,"x":0.91,"c":0.57},{"m":"T","G":71.9,"x":0.3,"c":0.19},{"m":"T","G":73,"x":0.47,"c":0.29},{"m":"T","G":74,"x":0.7,"c":0.43},{"m":"T","G":74.9,"x":0.88,"c":0.53},{"m":"T","G":75.9,"x":0.41,"c":0.25},{"m":"T","G":77.8,"x":0.83,"c":0.49},{"m":"T","G":79,"x":0.56,"c":0.33},{"m":"T","G":79.8,"x":0.81,"c":0.48},{"m":"T","G":80.5,"x":0.7,"c":0.41},{"m":"T","G":81,"x":0.64,"c":0.37},{"m":"T","G":82,"x":0.92,"c":0.53},{"m":"T","G":83,"x":0.28,"c":0.16},{"m":"T","G":84.5,"x":0.45,"c":0.26},{"m":"T","G":85.5,"x":0.67,"c":0.38},{"m":"T","G":86.1,"x":0.81,"c":0.46},{"m":"T","G":86.6,"x":0.64,"c":0.36},{"m":"T","G":87.9,"x":0.91,"c":0.51},{"m":"T","G":88.8,"x":0.33,"c":0.18},{"m":"T","G":90,"x":0.54,"c":0.3},{"m":"T","G":91,"x":0.73,"c":0.4},{"m":"T","G":91.8,"x":0.95,"c":0.51},{"m":"T","G":92.9,"x":0.15,"c":0.08},{"m":"T","G":94.6,"x":0.37,"c":0.2},{"m":"T","G":95.8,"x":0.6,"c":0.32},{"m":"T","G":96.8,"x":0.77,"c":0.4},{"m":"T","G":97.5,"x":0.77,"c":0.4},{"m":"T","G":98.7,"x":0.78,"c":0.4},{"m":"T","G":99.5,"x":0.78,"c":0.4},{"m":"T","G":99.8,"x":0.73,"c":0.38},{"m":"T","G":100.5,"x":0.86,"c":0.44},{"m":"T","G":100.9,"x":0.92,"c":0.47},{"m":"T","G":101.9,"x":0.28,"c":0.14},{"m":"T","G":103,"x":0.48,"c":0.24},{"m":"T","G":104,"x":0.72,"c":0.36},{"m":"T","G":105,"x":0.82,"c":0.41},{"m":"T","G":105.5,"x":0.68,"c":0.34},{"m":"T","G":105.8,"x":0.62,"c":0.31},{"m":"T","G":106.6,"x":0.88,"c":0.43},{"m":"T","G":107.9,"x":0.4,"c":0.19},{"m":"T","G":108.6,"x":0.52,"c":0.25},{"m":"T","G":109.9,"x":0.8,"c":0.38},{"m":"T","G":110.7,"x":0.66,"c":0.32},{"m":"T","G":111.8,"x":0.94,"c":0.45},{"m":"T","G":113.1,"x":0.22,"c":0.1},{"m":"T","G":114.6,"x":0.41,"c":0.19},{"m":"T","G":115.6,"x":0.65,"c":0.3},{"m":"T","G":116.4,"x":0.87,"c":0.4},{"m":"T","G":116.7,"x":0.92,"c":0.42},{"m":"T","G":118,"x":0.26,"c":0.12},{"m":"T","G":119.3,"x":0.48,"c":0.22},{"m":"T","G":120.2,"x":0.74,"c":0.33},{"m":"T","G":121.6,"x":0.88,"c":0.39},{"m":"T","G":123,"x":0.42,"c":0.19},{"m":"T","G":124.4,"x":0.83,"c":0.36},{"m":"T","G":124.9,"x":0.86,"c":0.37},{"m":"T","G":125.8,"x":0.49,"c":0.21},{"m":"T","G":126.4,"x":0.69,"c":0.3},{"m":"T","G":128,"x":0.99,"c":0.42},{"m":"T","G":128.9,"x":0.03,"c":0.01},{"m":"T","G":130.7,"x":0.08,"c":0.03},{"m":"T","G":132.9,"x":0.19,"c":0.08},{"m":"T","G":134.8,"x":0.36,"c":0.15},{"m":"T","G":136.6,"x":0.61,"c":0.25},{"m":"T","G":137.7,"x":0.82,"c":0.33},{"m":"T","G":138.9,"x":0.98,"c":0.39},{"m":"T","G":140,"x":0.08,"c":0.03},{"m":"T","G":141.8,"x":0.23,"c":0.09},{"m":"T","G":143.7,"x":0.46,"c":0.18},{"m":"T","G":145.5,"x":0.72,"c":0.27},{"m":"T","G":146.3,"x":0.86,"c":0.32},{"m":"T","G":146.9,"x":0.96,"c":0.36},{"m":"T","G":147.8,"x":0.15,"c":0.06},{"m":"T","G":148.1,"x":0.13,"c":0.05},{"m":"T","G":148.6,"x":0.17,"c":0.06},{"m":"T","G":149.2,"x":0.21,"c":0.08},{"m":"T","G":149.8,"x":0.26,"c":0.1}
 ]
},
"concat": [
  {"width": 540, "height": 568, "title": "Piecewise map", "data": {"name": "d"}, "transform": [{"filter": "datum.m === 'P'"}], "layer": [
   {"mark": {"type": "line", "color": "#0072BD", "strokeWidth": 1.5}, "encoding": {"x": {"field": "G", "type": "quantitative", "scale": {"domain": [0, 150], "nice": false}, "axis": {"values": [0, 50, 100, 150], "title": "G"}}, "y": {"field": "x", "type": "quantitative", "scale": {"domain": [0, 1], "nice": false}, "axis": {"values": [0, 0.2, 0.4, 0.6, 0.8, 1], "format": "~g", "title": "xc⁽ᴳ⁾"}}}},
   {"mark": {"type": "line", "strokeOpacity": 0}, "encoding": {"x": {"field": "G", "type": "quantitative", "scale": {"domain": [0, 150], "nice": false}, "axis": {"orient": "top", "values": [0, 50, 100, 150], "labels": false, "title": null}}, "y": {"field": "x", "type": "quantitative", "scale": {"domain": [0, 1], "nice": false}, "axis": {"orient": "right", "values": [0, 0.2, 0.4, 0.6, 0.8, 1], "labels": false, "title": null}}}}
  ], "resolve": {"scale": {"x": "independent", "y": "independent"}}},
  {"width": 540, "height": 568, "title": "Iterative map", "data": {"name": "d"}, "transform": [{"filter": "datum.m === 'I'"}], "layer": [
   {"mark": {"type": "line", "color": "#0072BD", "strokeWidth": 1.5}, "encoding": {"x": {"field": "G", "type": "quantitative", "scale": {"domain": [0, 150], "nice": false}, "axis": {"values": [0, 50, 100, 150], "title": "G"}}, "y": {"field": "x", "type": "quantitative", "scale": {"domain": [0, 1], "nice": false}, "axis": {"values": [0, 0.2, 0.4, 0.6, 0.8, 1], "format": "~g", "title": "xc⁽ᴳ⁾"}}}},
   {"mark": {"type": "line", "strokeOpacity": 0}, "encoding": {"x": {"field": "G", "type": "quantitative", "scale": {"domain": [0, 150], "nice": false}, "axis": {"orient": "top", "values": [0, 50, 100, 150], "labels": false, "title": null}}, "y": {"field": "x", "type": "quantitative", "scale": {"domain": [0, 1], "nice": false}, "axis": {"orient": "right", "values": [0, 0.2, 0.4, 0.6, 0.8, 1], "labels": false, "title": null}}}}
  ], "resolve": {"scale": {"x": "independent", "y": "independent"}}},
  {"width": 540, "height": 568, "title": "Logistic map", "data": {"name": "d"}, "transform": [{"filter": "datum.m === 'L'"}], "layer": [
   {"mark": {"type": "line", "color": "#0072BD", "strokeWidth": 1.5}, "encoding": {"x": {"field": "G", "type": "quantitative", "scale": {"domain": [0, 150], "nice": false}, "axis": {"values": [0, 50, 100, 150], "title": "G"}}, "y": {"field": "x", "type": "quantitative", "scale": {"domain": [0, 1], "nice": false}, "axis": {"values": [0, 0.2, 0.4, 0.6, 0.8, 1], "format": "~g", "title": "xc⁽ᴳ⁾"}}}},
   {"mark": {"type": "line", "strokeOpacity": 0}, "encoding": {"x": {"field": "G", "type": "quantitative", "scale": {"domain": [0, 150], "nice": false}, "axis": {"orient": "top", "values": [0, 50, 100, 150], "labels": false, "title": null}}, "y": {"field": "x", "type": "quantitative", "scale": {"domain": [0, 1], "nice": false}, "axis": {"orient": "right", "values": [0, 0.2, 0.4, 0.6, 0.8, 1], "labels": false, "title": null}}}}
  ], "resolve": {"scale": {"x": "independent", "y": "independent"}}},
  {"width": 540, "height": 568, "title": "Sine map", "data": {"name": "d"}, "transform": [{"filter": "datum.m === 'S'"}], "layer": [
   {"mark": {"type": "line", "color": "#0072BD", "strokeWidth": 1.5}, "encoding": {"x": {"field": "G", "type": "quantitative", "scale": {"domain": [0, 150], "nice": false}, "axis": {"values": [0, 50, 100, 150], "title": "G"}}, "y": {"field": "x", "type": "quantitative", "scale": {"domain": [0, 1], "nice": false}, "axis": {"values": [0, 0.2, 0.4, 0.6, 0.8, 1], "format": "~g", "title": "xc⁽ᴳ⁾"}}}},
   {"mark": {"type": "line", "strokeOpacity": 0}, "encoding": {"x": {"field": "G", "type": "quantitative", "scale": {"domain": [0, 150], "nice": false}, "axis": {"orient": "top", "values": [0, 50, 100, 150], "labels": false, "title": null}}, "y": {"field": "x", "type": "quantitative", "scale": {"domain": [0, 1], "nice": false}, "axis": {"orient": "right", "values": [0, 0.2, 0.4, 0.6, 0.8, 1], "labels": false, "title": null}}}}
  ], "resolve": {"scale": {"x": "independent", "y": "independent"}}},
  {"width": 540, "height": 568, "title": "Tent map", "data": {"name": "d"}, "transform": [{"filter": "datum.m === 'T'"}], "layer": [
   {"mark": {"type": "line", "color": "#0072BD", "strokeWidth": 1.5}, "encoding": {"x": {"field": "G", "type": "quantitative", "scale": {"domain": [0, 150], "nice": false}, "axis": {"values": [0, 50, 100, 150], "title": "G"}}, "y": {"field": "x", "type": "quantitative", "scale": {"domain": [0, 1], "nice": false}, "axis": {"values": [0, 0.2, 0.4, 0.6, 0.8, 1], "format": "~g", "title": "xc⁽ᴳ⁾"}}}},
   {"mark": {"type": "line", "strokeOpacity": 0}, "encoding": {"x": {"field": "G", "type": "quantitative", "scale": {"domain": [0, 150], "nice": false}, "axis": {"orient": "top", "values": [0, 50, 100, 150], "labels": false, "title": null}}, "y": {"field": "x", "type": "quantitative", "scale": {"domain": [0, 1], "nice": false}, "axis": {"orient": "right", "values": [0, 0.2, 0.4, 0.6, 0.8, 1], "labels": false, "title": null}}}}
  ], "resolve": {"scale": {"x": "independent", "y": "independent"}}},
  {"width": 540, "height": 568, "layer": [
   {"data": {"name": "d"}, "transform": [{"filter": "datum.m === 'P'"}], "mark": {"type": "line", "color": "#0072BD", "strokeWidth": 1.5}, "encoding": {"x": {"field": "G", "type": "quantitative", "scale": {"domain": [0, 150], "nice": false}, "axis": {"values": [0, 50, 100, 150], "title": "G"}}, "y": {"field": "c", "type": "quantitative", "scale": {"domain": [0, 1], "nice": false}, "axis": {"values": [0, 0.2, 0.4, 0.6, 0.8, 1], "format": "~g", "title": "c⁽ᴳ⁾"}}}},
   {"data": {"name": "e"}, "mark": {"type": "line", "color": "#D95319", "strokeWidth": 1.5}, "encoding": {"x": {"field": "G", "type": "quantitative", "scale": {"domain": [0, 150], "nice": false}, "axis": {"orient": "top", "values": [0, 50, 100, 150], "labels": false, "title": null}}, "y": {"field": "v", "type": "quantitative", "scale": {"domain": [0, 1], "nice": false}, "axis": {"orient": "right", "values": [0, 0.2, 0.4, 0.6, 0.8, 1], "labels": false, "title": null}}}}
  ], "resolve": {"scale": {"x": "independent", "y": "independent"}}},
  {"width": 540, "height": 568, "layer": [
   {"data": {"name": "d"}, "transform": [{"filter": "datum.m === 'I'"}], "mark": {"type": "line", "color": "#0072BD", "strokeWidth": 1.5}, "encoding": {"x": {"field": "G", "type": "quantitative", "scale": {"domain": [0, 150], "nice": false}, "axis": {"values": [0, 50, 100, 150], "title": "G"}}, "y": {"field": "c", "type": "quantitative", "scale": {"domain": [0, 1], "nice": false}, "axis": {"values": [0, 0.2, 0.4, 0.6, 0.8, 1], "format": "~g", "title": "c⁽ᴳ⁾"}}}},
   {"data": {"name": "e"}, "mark": {"type": "line", "color": "#D95319", "strokeWidth": 1.5}, "encoding": {"x": {"field": "G", "type": "quantitative", "scale": {"domain": [0, 150], "nice": false}, "axis": {"orient": "top", "values": [0, 50, 100, 150], "labels": false, "title": null}}, "y": {"field": "v", "type": "quantitative", "scale": {"domain": [0, 1], "nice": false}, "axis": {"orient": "right", "values": [0, 0.2, 0.4, 0.6, 0.8, 1], "labels": false, "title": null}}}}
  ], "resolve": {"scale": {"x": "independent", "y": "independent"}}},
  {"width": 540, "height": 568, "layer": [
   {"data": {"name": "d"}, "transform": [{"filter": "datum.m === 'L'"}], "mark": {"type": "line", "color": "#0072BD", "strokeWidth": 1.5}, "encoding": {"x": {"field": "G", "type": "quantitative", "scale": {"domain": [0, 150], "nice": false}, "axis": {"values": [0, 50, 100, 150], "title": "G"}}, "y": {"field": "c", "type": "quantitative", "scale": {"domain": [0, 1], "nice": false}, "axis": {"values": [0, 0.2, 0.4, 0.6, 0.8, 1], "format": "~g", "title": "c⁽ᴳ⁾"}}}},
   {"data": {"name": "e"}, "mark": {"type": "line", "color": "#D95319", "strokeWidth": 1.5}, "encoding": {"x": {"field": "G", "type": "quantitative", "scale": {"domain": [0, 150], "nice": false}, "axis": {"orient": "top", "values": [0, 50, 100, 150], "labels": false, "title": null}}, "y": {"field": "v", "type": "quantitative", "scale": {"domain": [0, 1], "nice": false}, "axis": {"orient": "right", "values": [0, 0.2, 0.4, 0.6, 0.8, 1], "labels": false, "title": null}}}}
  ], "resolve": {"scale": {"x": "independent", "y": "independent"}}},
  {"width": 540, "height": 568, "layer": [
   {"data": {"name": "d"}, "transform": [{"filter": "datum.m === 'S'"}], "mark": {"type": "line", "color": "#0072BD", "strokeWidth": 1.5}, "encoding": {"x": {"field": "G", "type": "quantitative", "scale": {"domain": [0, 150], "nice": false}, "axis": {"values": [0, 50, 100, 150], "title": "G"}}, "y": {"field": "c", "type": "quantitative", "scale": {"domain": [0, 1], "nice": false}, "axis": {"values": [0, 0.2, 0.4, 0.6, 0.8, 1], "format": "~g", "title": "c⁽ᴳ⁾"}}}},
   {"data": {"name": "e"}, "mark": {"type": "line", "color": "#D95319", "strokeWidth": 1.5}, "encoding": {"x": {"field": "G", "type": "quantitative", "scale": {"domain": [0, 150], "nice": false}, "axis": {"orient": "top", "values": [0, 50, 100, 150], "labels": false, "title": null}}, "y": {"field": "v", "type": "quantitative", "scale": {"domain": [0, 1], "nice": false}, "axis": {"orient": "right", "values": [0, 0.2, 0.4, 0.6, 0.8, 1], "labels": false, "title": null}}}}
  ], "resolve": {"scale": {"x": "independent", "y": "independent"}}},
  {"width": 540, "height": 568, "layer": [
   {"data": {"name": "d"}, "transform": [{"filter": "datum.m === 'T'"}], "mark": {"type": "line", "color": "#0072BD", "strokeWidth": 1.5}, "encoding": {"x": {"field": "G", "type": "quantitative", "scale": {"domain": [0, 150], "nice": false}, "axis": {"values": [0, 50, 100, 150], "title": "G"}}, "y": {"field": "c", "type": "quantitative", "scale": {"domain": [0, 1], "nice": false}, "axis": {"values": [0, 0.2, 0.4, 0.6, 0.8, 1], "format": "~g", "title": "c⁽ᴳ⁾"}}}},
   {"data": {"name": "e"}, "mark": {"type": "line", "color": "#D95319", "strokeWidth": 1.5}, "encoding": {"x": {"field": "G", "type": "quantitative", "scale": {"domain": [0, 150], "nice": false}, "axis": {"orient": "top", "values": [0, 50, 100, 150], "labels": false, "title": null}}, "y": {"field": "v", "type": "quantitative", "scale": {"domain": [0, 1], "nice": false}, "axis": {"orient": "right", "values": [0, 0.2, 0.4, 0.6, 0.8, 1], "labels": false, "title": null}}}}
  ], "resolve": {"scale": {"x": "independent", "y": "independent"}}}
]
}
